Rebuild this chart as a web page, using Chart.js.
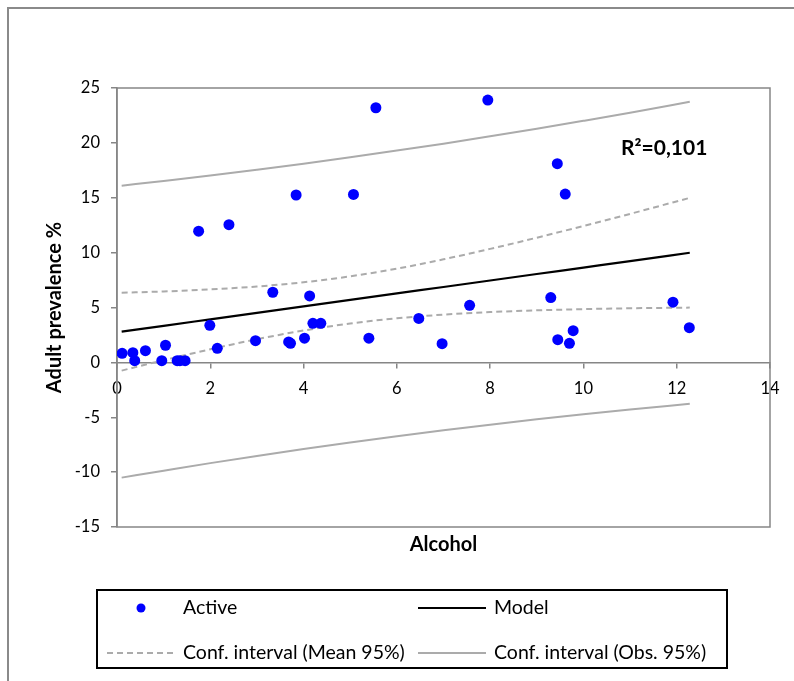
<!DOCTYPE html>
<html>
<head>
<meta charset="utf-8">
<script src="https://cdn.jsdelivr.net/npm/chart.js@4/dist/chart.umd.min.js"></script>
<style>
  html, body { margin: 0; padding: 0; background: #ffffff; }
  #wrap { position: relative; width: 794px; height: 681px; }
</style>
</head>
<body>
<div id="wrap"><canvas id="c" width="794" height="681"></canvas></div>
<script>
// ---- data ----
const alcohol = [0.11, 0.34, 0.38, 0.61, 0.96, 1.04, 1.29, 1.35, 1.46, 1.75, 1.99, 2.15, 2.4, 2.97, 3.34, 3.68, 3.72, 3.84, 4.02, 4.13, 4.2, 4.37, 5.07, 5.4, 5.55, 6.47, 6.97, 7.56, 7.95, 9.3, 9.44, 9.45, 9.61, 9.7, 9.78, 11.92, 12.27];
const prevalence = [0.83, 0.88, 0.15, 1.07, 0.15, 1.56, 0.15, 0.15, 0.15, 11.95, 3.38, 1.28, 12.55, 1.98, 6.39, 1.86, 1.74, 15.25, 2.2, 6.05, 3.56, 3.56, 15.3, 2.2, 23.2, 4.0, 1.7, 5.2, 23.9, 5.9, 18.1, 2.07, 15.34, 1.74, 2.89, 5.48, 3.16];

const curveX = [0.1, 1, 2, 3, 4, 5, 6, 7, 8, 9, 10, 11, 12.28];
const modelY = [2.80, 3.33, 3.92, 4.51, 5.10, 5.69, 6.28, 6.87, 7.46, 8.05, 8.64, 9.23, 9.99];
const meanUpper = [6.35, 6.46, 6.65, 6.91, 7.30, 7.84, 8.54, 9.39, 10.34, 11.36, 12.43, 13.53, 14.99];
const meanLower = [-0.75, 0.20, 1.19, 2.11, 2.90, 3.54, 4.02, 4.35, 4.58, 4.74, 4.85, 4.93, 4.99];
const obsUpper = [16.10, 16.53, 17.02, 17.55, 18.10, 18.69, 19.30, 19.93, 20.60, 21.29, 22.01, 22.75, 23.75];
const obsLower = [-10.50, -9.87, -9.18, -8.53, -7.90, -7.31, -6.74, -6.19, -5.68, -5.19, -4.73, -4.29, -3.77];

const xTickValues = [0, 2, 4, 6, 8, 10, 12, 14];
const yTickValues = [-15, -10, -5, 0, 5, 10, 15, 20, 25];

const seriesLabels = ['Active', 'Model', 'Conf. interval (Mean 95%)', 'Conf. interval (Obs. 95%)'];
const xTitle = 'Alcohol';
const yTitle = 'Adult prevalence %';
const r2Text = 'R²=0,101';

// ---- build ----
const pts = (xs, ys) => xs.map((x, i) => ({ x: x, y: ys[i] }));
const FONT = 'Lato, "Open Sans", "Liberation Sans", sans-serif';
const AXIS_GRAY = '#868686';
const CI_GRAY = '#ababab';

const lineDs = (label, data, color, dash, width, order, showInLegend) => ({
  label, data, type: 'scatter', showLine: true, borderColor: color, backgroundColor: color,
  borderWidth: width, borderDash: dash, pointRadius: 0, pointHoverRadius: 0,
  cubicInterpolationMode: 'monotone', fill: false, order, _legend: showInLegend
});

const datasets = [
  { label: seriesLabels[0], data: pts(alcohol, prevalence), pointRadius: 5.5, pointHoverRadius: 5.5,
    pointBackgroundColor: '#0000ff', pointBorderWidth: 0, backgroundColor: '#0000ff', borderColor: '#0000ff', order: 0, _legend: true },
  lineDs(seriesLabels[1], pts(curveX, modelY), '#000000', [], 2.2, 1, true),
  lineDs(seriesLabels[2], pts(curveX, meanUpper), CI_GRAY, [6, 4], 2, 2, true),
  lineDs(seriesLabels[2], pts(curveX, meanLower), CI_GRAY, [6, 4], 2, 2, false),
  lineDs(seriesLabels[3], pts(curveX, obsUpper), CI_GRAY, [], 2, 3, true),
  lineDs(seriesLabels[3], pts(curveX, obsLower), CI_GRAY, [], 2, 3, false)
];

const framePlugin = {
  id: 'frame',
  beforeDraw(chart) {
    const ctx = chart.ctx;
    ctx.save();
    ctx.fillStyle = '#ffffff';
    ctx.fillRect(0, 0, chart.width, chart.height);
    ctx.strokeStyle = '#8a8a8a';
    ctx.lineWidth = 2;
    ctx.strokeRect(8, 8, 800, 700);
    ctx.restore();
  },
  beforeDatasetsDraw(chart) {
    const a = chart.chartArea, ctx = chart.ctx;
    ctx.save();
    ctx.strokeStyle = AXIS_GRAY;
    ctx.lineWidth = 1.5;
    ctx.strokeRect(a.left, a.top, a.right - a.left, a.bottom - a.top);
    ctx.restore();
  },
  afterDraw(chart) {
    const ctx = chart.ctx;
    ctx.save();
    // R² annotation
    ctx.fillStyle = '#000';
    ctx.font = 'bold 21px ' + FONT;
    ctx.textBaseline = 'middle';
    ctx.textAlign = 'left';
    ctx.fillText(r2Text, 621, 148);
    // legend box
    ctx.strokeStyle = '#000';
    ctx.lineWidth = 2;
    ctx.strokeRect(97, 590, 630, 78);
    const items = chart.data.datasets.filter(d => d._legend);
    const slots = [[107, 608], [418, 608], [107, 653], [418, 653]];
    ctx.font = '19.5px ' + FONT;
    items.forEach((d, i) => {
      const [sx, sy] = slots[i];
      if (d.showLine) {
        ctx.beginPath();
        ctx.setLineDash(d.borderDash || []);
        ctx.strokeStyle = d.borderColor;
        ctx.lineWidth = d.borderWidth;
        ctx.moveTo(sx, sy);
        ctx.lineTo(sx + 68, sy);
        ctx.stroke();
        ctx.setLineDash([]);
      } else {
        ctx.beginPath();
        ctx.fillStyle = d.pointBackgroundColor;
        ctx.arc(sx + 34, sy, 4.5, 0, Math.PI * 2);
        ctx.fill();
      }
      ctx.fillStyle = '#000';
      ctx.fillText(d.label, sx + 76, sy);
    });
    ctx.restore();
  }
};

new Chart(document.getElementById('c'), {
  type: 'scatter',
  data: { datasets },
  plugins: [framePlugin],
  options: {
    responsive: false,
    animation: false,
    events: [],
    layout: { padding: { left: 8, top: 88, right: 24, bottom: 114 } },
    plugins: { legend: { display: false }, tooltip: { enabled: false } },
    scales: {
      x: {
        type: 'linear', min: 0, max: 14, position: { y: 0 },
        afterBuildTicks: s => { s.ticks = xTickValues.map(v => ({ value: v })); },
        ticks: { color: '#000', font: { family: FONT, size: 16.5 }, padding: 11, maxRotation: 0 },
        grid: { display: true, drawOnChartArea: false, drawTicks: true, tickLength: 5, color: AXIS_GRAY, lineWidth: 1.5 },
        border: { display: true, color: AXIS_GRAY, width: 1.5 }
      },
      x2: {
        type: 'linear', min: 0, max: 14, position: 'bottom', axis: 'x',
        afterFit: s => { s.height = 40; },
        ticks: { display: false },
        grid: { display: false, drawTicks: false },
        border: { display: false },
        title: { display: true, text: xTitle, color: '#000', font: { family: FONT, size: 20, weight: 'bold' }, padding: { top: 0, bottom: 10 } }
      },
      y: {
        type: 'linear', min: -15, max: 25, position: 'left',
        afterFit: s => { s.width = 109; },
        afterBuildTicks: s => { s.ticks = yTickValues.map(v => ({ value: v })); },
        ticks: { color: '#000', font: { family: FONT, size: 16.5 }, padding: 11 },
        grid: { display: true, drawOnChartArea: false, drawTicks: true, tickLength: 6, color: AXIS_GRAY, lineWidth: 1.5 },
        border: { display: true, color: AXIS_GRAY, width: 1.5 },
        title: { display: true, text: yTitle, color: '#000', font: { family: FONT, size: 20, weight: 'bold' }, padding: { top: 35, bottom: 0 } }
      }
    }
  }
});
</script>
</body>
</html>
